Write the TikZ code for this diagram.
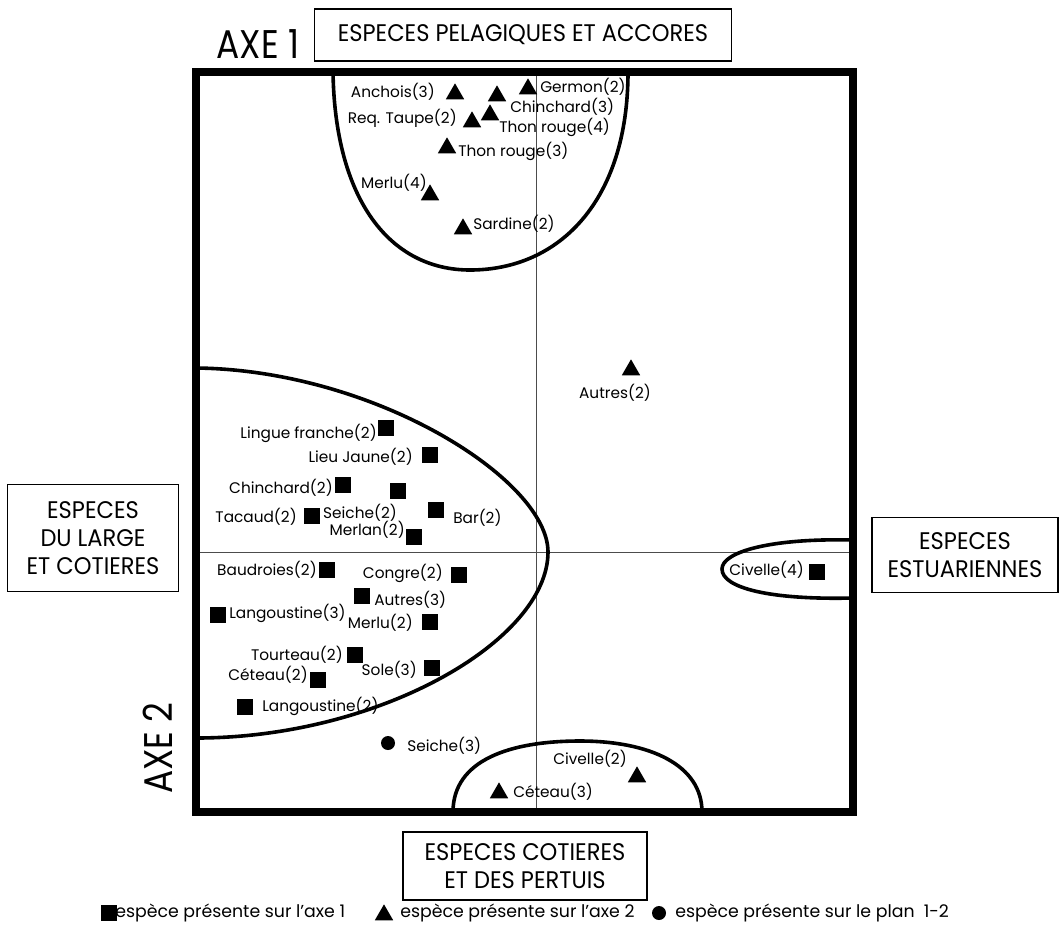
\documentclass[tikz,border=0pt]{standalone}
\usepackage{fontspec}
\setmainfont{Poppins}
\newfontfamily\axefont[FakeStretch=0.86]{Poppins}
\newfontfamily\boxfont[FakeStretch=0.94]{Poppins}
\usetikzlibrary{shapes.geometric}

\begin{document}
\begin{tikzpicture}[x=0.75pt,y=-0.75pt,
  frame/.style={line width=6pt, line join=miter},
  zone/.style={line width=2.7pt},
  axisline/.style={line width=0.7pt, draw=black!70},
  sq/.style={rectangle, fill=black, minimum size=12.5pt, inner sep=0pt},
  tri/.style={regular polygon, regular polygon sides=3, fill=black, minimum size=16pt, inner sep=0pt},
  dot/.style={circle, fill=black, minimum size=10.5pt, inner sep=0pt},
  lab/.style={font=\fontsize{11.5}{13}\selectfont, inner sep=0pt},
  lbl/.style={lab, anchor=west},
  lbr/.style={lab, anchor=east},
  group/.style={draw, line width=1.1pt, font=\boxfont\fontsize{18}{21}\selectfont, align=center, inner sep=0pt},
  axetxt/.style={font=\axefont\fontsize{30}{30}\selectfont, inner sep=0pt},
  legtxt/.style={font=\fontsize{13}{15}\selectfont, inner sep=0pt, anchor=west}
]
\useasboundingbox (0,0) rectangle (1064,933);

% frame corners and axes ends
\coordinate (tl) at (196,72);
\coordinate (tr) at (853,72);
\coordinate (br) at (853,812);
\coordinate (bl) at (196,812);
\coordinate (vtop) at (536,72);
\coordinate (vbot) at (536,812);
\coordinate (hl) at (196,552);
\coordinate (hr) at (853,552);

% factorial axes
\draw[axisline] (vtop) -- (vbot);
\draw[axisline] (hl) -- (hr);

% species groupings
\draw[zone] (333,72) .. controls (335,200) and (390,270) .. (470,270)
            .. controls (560,270) and (628,200) .. (628,72);
\draw[zone] (196,368) .. controls (375,370) and (548,480) .. (548,552)
            .. controls (548,640) and (380,738) .. (196,738);
\draw[zone] (453,812) .. controls (453,760) and (510,741) .. (580,741)
            .. controls (650,741) and (702,765) .. (702,812);
\draw[zone] (853,540) .. controls (770,538) and (722,552) .. (722,569)
            .. controls (722,588) and (770,600) .. (853,598);

% outer frame
\draw[frame] (tl) -- (tr) -- (br) -- (bl) -- cycle;

% axis titles
\node[axetxt] (axe1) at (258,44) {AXE 1};
\node[axetxt, rotate=90] (axe2) at (158,748) {AXE 2};

% group boxes
\node[group, minimum width=313pt, minimum height=39pt] (gtop) at (523,35)
  {ESPECES PELAGIQUES ET ACCORES};
\node[group, minimum width=128pt, minimum height=80pt] (gleft) at (93,538)
  {ESPECES\\DU LARGE\\ET COTIERES};
\node[group, minimum width=139.5pt, minimum height=56pt] (gright) at (965,555)
  {ESPECES\\ESTUARIENNES};
\node[group, minimum width=183pt, minimum height=51pt] (gbot) at (525,866)
  {ESPECES COTIERES\\ET DES PERTUIS};

% species on axis 2 (triangles)
\node[tri] (t1) at (455,94) {};
\node[tri] (t2) at (497,96) {};
\node[tri] (t3) at (528,89) {};
\node[tri] (t4) at (472,122) {};
\node[tri] (t5) at (490,115) {};
\node[tri] (t6) at (447,148) {};
\node[tri] (t7) at (430,195) {};
\node[tri] (t8) at (463,229) {};
\node[tri] (t9) at (631,370) {};
\node[tri] (t10) at (637,777) {};
\node[tri] (t11) at (499,793) {};

\node[lbr] (lt1) at (435,92) {Anchois(3)};
\node[lbl] (lt3) at (540,87) {Germon(2)};
\node[lbl] (lt2) at (510,107) {Chinchard(3)};
\node[lbr] (lt4) at (457,118) {Req. Taupe(2)};
\node[lbl] (lt5) at (499,127) {Thon rouge(4)};
\node[lbl] (lt6) at (458,151) {Thon rouge(3)};
\node[lbr] (lt7) at (427,183) {Merlu(4)};
\node[lbl] (lt8) at (473,224) {Sardine(2)};
\node[lab] (lt9) at (615,393) {Autres(2)};
\node[lab] (lt10) at (590,759) {Civelle(2)};
\node[lbl] (lt11) at (513,792) {Céteau(3)};

% species on axis 1 (squares)
\node[sq] (s1) at (386,428) {};
\node[sq] (s2) at (430,455) {};
\node[sq] (s3) at (343,485) {};
\node[sq] (s4) at (398,491) {};
\node[sq] (s5) at (312,516) {};
\node[sq] (s6) at (436,510) {};
\node[sq] (s7) at (414,537) {};
\node[sq] (s8) at (327,570) {};
\node[sq] (s9) at (459,575) {};
\node[sq] (s10) at (362,596) {};
\node[sq] (s11) at (218,615) {};
\node[sq] (s12) at (430,622) {};
\node[sq] (s13) at (355,655) {};
\node[sq] (s14) at (318,680) {};
\node[sq] (s15) at (432,668) {};
\node[sq] (s16) at (245,707) {};
\node[sq] (s17) at (817,572) {};

\node[lbr] (ls1) at (377,433) {Lingue franche(2)};
\node[lbr] (ls2) at (413,457) {Lieu Jaune(2)};
\node[lbr] (ls3) at (333,488) {Chinchard(2)};
\node[lab] (ls4) at (360,513) {Seiche(2)};
\node[lbr] (ls5) at (297,517) {Tacaud(2)};
\node[lbl] (ls6) at (453,518) {Bar(2)};
\node[lbr] (ls7) at (405,530) {Merlan(2)};
\node[lbr] (ls8) at (317,570) {Baudroies(2)};
\node[lbr] (ls9) at (443,573) {Congre(2)};
\node[lbl] (ls10) at (374,600) {Autres(3)};
\node[lbl] (ls11) at (229,613) {Langoustine(3)};
\node[lbr] (ls12) at (413,623) {Merlu(2)};
\node[lbr] (ls13) at (343,655) {Tourteau(2)};
\node[lbr] (ls14) at (308,675) {Céteau(2)};
\node[lbr] (ls15) at (417,670) {Sole(3)};
\node[lbl] (ls16) at (262,706) {Langoustine(2)};
\node[lbr] (ls17) at (804,570) {Civelle(4)};

% species on plane 1-2 (circle)
\node[dot] (c1) at (388,743) {};
\node[lbl] (lc1) at (407,746) {Seiche(3)};

% legend
\node[sq] (kq) at (109,913) {};
\node[legtxt] (kqt) at (115,913) {espèce présente sur l'axe 1};
\node[tri] (kt) at (384,915) {};
\node[legtxt] (ktt) at (400,913) {espèce présente sur l'axe 2};
\node[dot] (kc) at (659,913) {};
\node[legtxt] (kct) at (675,913) {espèce présente sur le plan~~1-2};
\end{tikzpicture}
\end{document}
